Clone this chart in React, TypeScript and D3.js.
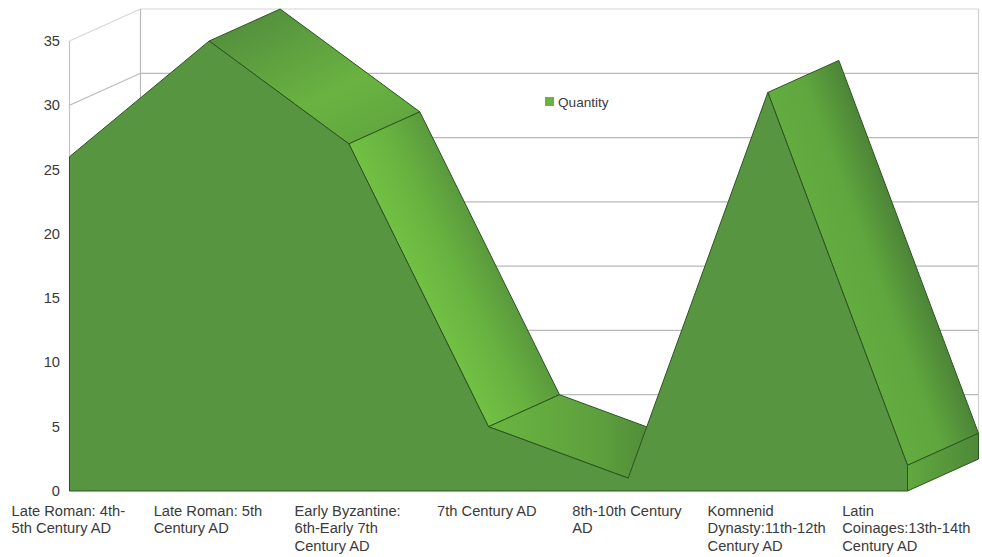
import React from "react";
import * as d3 from "d3";

// Coin counts per period, drawn as a single extruded 3D area series.
const periods = [
  ["Late Roman: 4th-", "5th Century AD"],
  ["Late Roman: 5th", "Century AD"],
  ["Early Byzantine:", "6th-Early 7th", "Century AD"],
  ["7th Century AD"],
  ["8th-10th Century", "AD"],
  ["Komnenid", "Dynasty:11th-12th", "Century AD"],
  ["Latin", "Coinages:13th-14th", "Century AD"],
];
const quantities = [26, 35, 27, 5, 1, 31, 2];
const yTicks = [0, 5, 10, 15, 20, 25, 30, 35];
const seriesName = "Quantity";

const W = 982;
const H = 557;
const FONT = "'Liberation Sans', Arial, sans-serif";
const LABEL_SIZE = 14.7;
const DEPTH_X = 71;
const DEPTH_Y = -32;

const x = d3.scaleLinear().domain([0, periods.length - 1]).range([69.5, 907.5]);
const y = d3.scaleLinear().domain([0, 35]).range([491, 41]);

const GRID = "#b9b9b9";
const EDGE = "#2a5520";
const FRONT = "#589541";

// Shading of each downward-sloping top face, light to dark along the face.
const faceStops: Record<number, [number, string][]> = {
  1: [[0, "#56923e"], [0.65, "#6ab341"], [1, "#62a83f"]],
  2: [[0, "#72c044"], [0.5, "#68b340"], [1, "#5a9a3d"]],
  3: [[0, "#6ab641"], [0.55, "#5c9e3d"], [1, "#457832"]],
  5: [[0, "#64ac40"], [0.5, "#5fa63e"], [1, "#4c8537"]],
};

const measure = (() => {
  const ctx = document.createElement("canvas").getContext("2d")!;
  ctx.font = `${LABEL_SIZE}px ${FONT}`;
  return (s: string) => ctx.measureText(s).width;
})();

const poly = d3.line<[number, number]>().x((d) => d[0]).y((d) => d[1]);
const closed = (pts: [number, number][]) => poly(pts) + "Z";

type Pt = [number, number];

// Gradient vector for a face: steep faces shade across their width, the others along a fixed axis.
function faceVector(i: number, front: Pt[], back: Pt[]): [number, number, number, number] {
  if (i === 1) return [back[i][0], back[i][1], front[i + 1][0], front[i + 1][1]];
  if (i === 3) return [front[i][0], front[i][1], back[i + 1][0], front[i][1]];
  const dx = front[i + 1][0] - front[i][0];
  const dy = front[i + 1][1] - front[i][1];
  const len = Math.hypot(dx, dy);
  const nx = -dy / len;
  const ny = dx / len;
  const across = DEPTH_X * nx + DEPTH_Y * ny;
  const mx = (front[i][0] + front[i + 1][0]) / 2;
  const my = (front[i][1] + front[i + 1][1]) / 2;
  return [mx, my, mx + nx * across, my + ny * across];
}

export default function App() {
  const front: Pt[] = quantities.map((q, i) => [x(i), y(q)]);
  const back = front.map(([a, b]) => [a + DEPTH_X, b + DEPTH_Y] as Pt);
  const last = quantities.length - 1;
  const baseRight: Pt = [x(last), y(0)];
  const faces = quantities.slice(0, last).map((q, i) => ({ i, falling: quantities[i + 1] < q })).filter((f) => f.falling);

  return (
    <svg width={W} height={H} style={{ position: "fixed", left: 0, top: 0, display: "block", background: "#fff" }}>
      <defs>
        {faces.map(({ i }) => {
          const [x1, y1, x2, y2] = faceVector(i, front, back);
          return (
            <linearGradient key={i} id={`face-${i}`} gradientUnits="userSpaceOnUse" x1={x1} y1={y1} x2={x2} y2={y2}>
              {faceStops[i].map(([o, c]) => (
                <stop key={o} offset={o} stopColor={c} />
              ))}
            </linearGradient>
          );
        })}
        <linearGradient id="end-cap" x1="0" x2="1" y1="0" y2="0">
          <stop offset="0" stopColor="#62a93f" />
          <stop offset="1" stopColor="#4e8838" />
        </linearGradient>
      </defs>

      {/* Wall grid */}
      <g fill="none" stroke={GRID} strokeWidth={1.2}>
        {yTicks.map((t) => (
          <path
            key={t}
            stroke={t === 35 ? "#d6d6d6" : GRID}
            d={poly([
              [x(0), y(t)],
              [x(0) + DEPTH_X, y(t) + DEPTH_Y],
              [x(last) + DEPTH_X, y(t) + DEPTH_Y],
            ])!}
          />
        ))}
        <path stroke="#c4c4c4" d={poly([[x(0), y(0)], [x(0), y(35)]])!} />
        <path d={poly([[x(0) + DEPTH_X, y(0) + DEPTH_Y], [x(0) + DEPTH_X, y(35) + DEPTH_Y]])!} />
        <path stroke="#d0d0d0" d={poly([[x(last) + DEPTH_X, y(0) + DEPTH_Y], [x(last) + DEPTH_X, y(35) + DEPTH_Y]])!} />
      </g>

      {/* Extruded top faces */}
      <g stroke={EDGE} strokeWidth={1} strokeLinejoin="round">
        {faces.map(({ i }) => (
          <path key={i} fill={`url(#face-${i})`} d={closed([front[i], back[i], back[i + 1], front[i + 1]])} />
        ))}
        <path
          fill="url(#end-cap)"
          d={closed([front[last], back[last], [baseRight[0] + DEPTH_X, baseRight[1] + DEPTH_Y], baseRight])}
        />
      </g>

      {/* Front face of the area */}
      <path
        fill={FRONT}
        stroke={EDGE}
        strokeWidth={1}
        strokeLinejoin="round"
        d={closed([[x(0), y(0)], ...front, baseRight])}
      />

      {/* Value axis labels */}
      <g fontFamily={FONT} fontSize={LABEL_SIZE} fill="#3a3a3a" textAnchor="end">
        {yTicks.map((t) => (
          <text key={t} x={60} y={y(t) + 5}>{t}</text>
        ))}
      </g>

      {/* Period labels: a left-aligned block centred under each category */}
      <g fontFamily={FONT} fontSize={LABEL_SIZE} fill="#3a3a3a">
        {periods.map((lines, i) => {
          const left = x(i) - Math.max(...lines.map(measure)) / 2 - 1.2;
          return (
            <text key={i} y={516} x={left}>
              {lines.map((l, k) => (
                <tspan key={k} x={left} dy={k === 0 ? 0 : 17.3}>{l}</tspan>
              ))}
            </text>
          );
        })}
      </g>

      {/* Legend */}
      <rect x={545} y={97} width={9} height={9} fill="#6ab33f" />
      <text x={558} y={107} fontFamily={FONT} fontSize={13.6} fill="#3a3a3a">{seriesName}</text>
    </svg>
  );
}
